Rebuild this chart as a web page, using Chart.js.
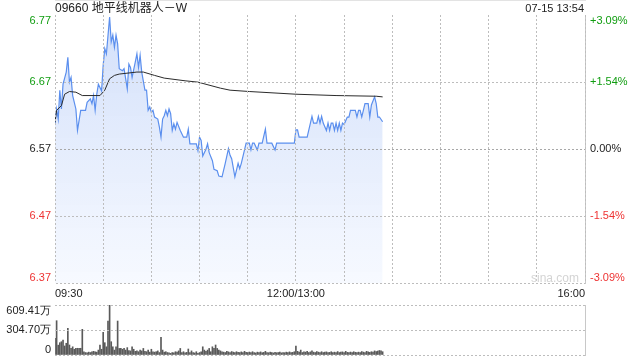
<!DOCTYPE html>
<html><head><meta charset="utf-8">
<script src="https://cdn.jsdelivr.net/npm/chart.js@4/dist/chart.umd.min.js"></script>
<style>
html,body{margin:0;padding:0;background:#fff;width:640px;height:360px;overflow:hidden;font-family:"Liberation Sans","Noto Sans CJK SC",Arial,sans-serif;}
#wrap{position:relative;width:640px;height:360px;background:#fff;}
canvas{display:block;}
#vc{position:absolute;left:0;top:295px;}
.t{position:absolute;white-space:nowrap;line-height:14px;}
#mask{position:absolute;left:0;top:0;width:6px;height:292px;background:#fff;}
</style></head><body>
<div id="wrap">
<canvas id="pc" width="640" height="300"></canvas>
<canvas id="vc" width="640" height="65"></canvas>
<div id="mask"></div>
<div class="t" style="left:55px;top:1px;font-size:12px;color:#222;">09660 地平线机器人－W</div>
<div class="t" style="right:56px;top:1px;font-size:11px;color:#222;">07-15 13:54</div>
<div class="t" style="left:531px;top:271px;font-size:12px;color:#d4d4d4;">sina.com</div>
</div>
<script>
// ---- data ----
const xTickMinutes = [0,30,60,90,120,150,180,210,240,270,300,330];
const xTickLabels = {0:'09:30',150:'12:00/13:00',330:'16:00'};
const priceTicks = [6.37,6.47,6.57,6.67,6.77];
const pctTicks = [-3.09,-1.54,0,1.54,3.09];
const pctLabels = ['-3.09%','-1.54%','0.00%','+1.54%','+3.09%'];
const volTicks = [0,304.70,609.41];
const volLabels = ['0','304.70万','609.41万'];
const prevClose = 6.57;

const priceMinutes = [0,1,2,3,4,5,7,8,9,10,11,13,14,16,19,20,22,23,24,25,26,27,29,30,31,32,34,35,36,37,38,39,40,42,43,45,46,47,48,50,51,52,53,54,56,57,58,59,60,61,62,64,65,66,67,68,69,70,71,72,73,74,75,76,78,80,82,83,84,86,88,89,90,91,92,94,95,96,98,99,101,102,104,106,108,109,110,112,113,114,115,116,118,119,121,122,123,124,126,127,129,131,132,135,137,138,149,150,151,152,154,157,160,161,163,164,165,166,167,169,170,171,172,173,174,175,176,177,178,179,180,182,183,184,187,188,189,190,191,193,195,196,197,199,200,201,202,204];
const prices = [6.608,6.63,6.615,6.658,6.63,6.667,6.685,6.707,6.67,6.677,6.65,6.63,6.598,6.628,6.628,6.64,6.645,6.638,6.65,6.628,6.652,6.667,6.657,6.695,6.72,6.712,6.767,6.73,6.74,6.722,6.74,6.727,6.69,6.687,6.69,6.66,6.697,6.692,6.677,6.70,6.712,6.692,6.71,6.685,6.658,6.658,6.628,6.633,6.625,6.628,6.618,6.615,6.603,6.588,6.615,6.62,6.628,6.62,6.63,6.623,6.598,6.608,6.60,6.61,6.598,6.588,6.588,6.60,6.578,6.578,6.578,6.568,6.588,6.583,6.56,6.57,6.578,6.565,6.553,6.54,6.538,6.53,6.529,6.549,6.571,6.561,6.556,6.529,6.539,6.549,6.541,6.549,6.569,6.579,6.579,6.569,6.579,6.579,6.569,6.579,6.579,6.60,6.579,6.579,6.569,6.579,6.579,6.599,6.599,6.588,6.588,6.588,6.619,6.609,6.609,6.619,6.609,6.619,6.609,6.598,6.609,6.598,6.609,6.609,6.598,6.609,6.598,6.609,6.598,6.609,6.607,6.618,6.618,6.628,6.628,6.618,6.628,6.628,6.618,6.638,6.638,6.618,6.636,6.648,6.638,6.618,6.618,6.611];

const avgMinutes = [0,1,4,6,9,13,17,28,31,34,37,40,51,55,62,68,81,89,103,109,121,150,175,200,204];
const avgPrices = [6.61,6.628,6.635,6.652,6.656,6.655,6.65,6.65,6.658,6.675,6.68,6.682,6.685,6.685,6.68,6.676,6.672,6.67,6.661,6.658,6.656,6.652,6.65,6.649,6.648];

// volume per minute (万股), minute 0..204
const volumes = [203,418,120,150,162,183,110,143,325,122,
82,100,70,82,82,82,82,313,40,30,
25,35,30,40,45,40,35,60,120,70,
276,150,100,414,609,162,100,60,100,414,
80,80,70,80,60,90,55,50,100,70,
45,50,40,60,50,80,45,40,60,35,
70,40,35,40,50,30,215,60,35,40,
30,25,20,30,25,40,35,50,80,30,
40,25,32,73,30,50,30,25,40,20,
30,40,100,60,45,60,80,40,100,80,
122,80,60,50,40,35,30,45,38,30,
42,35,28,40,33,30,38,28,45,32,
30,36,28,40,30,25,35,30,38,28,
32,45,30,28,35,30,25,33,28,30,
36,26,30,28,35,30,38,28,32,40,
110,45,35,60,30,40,35,45,30,38,
50,35,30,42,35,28,40,30,35,38,
28,32,40,30,35,28,42,30,35,38,
30,45,32,28,36,30,40,33,28,35,
30,42,35,30,45,38,32,40,35,50,
42,48,55,50,40];

// ---- styling ----
const FONT = '"Liberation Sans", Arial, sans-serif';
const GREEN = '#109d10', RED = '#ee3333', DARK = '#222';
const GRID = '#bdbdbd';
const FRAME = '#c8c8c8';
const DASH = [2,2];

function priceColor(v){ if (Math.abs(v-prevClose)<1e-6) return DARK; return v>prevClose?GREEN:RED; }
// edge labels sit inside the plot (top label below its line, bottom label above)
function edgeLabel(text, i, n){ if (i===n-1) return ['', text]; if (i===0) return [text, '']; return text; }
function fixY(width){ return s=>{ s.width = width; s.paddingTop = 0; s.paddingBottom = 0; }; }

new Chart(document.getElementById('pc'), {
  type: 'line',
  data: { datasets: [
    { data: avgMinutes.map((m,i)=>({x:m,y:avgPrices[i]})), borderColor:'#2b2b2b', borderWidth:1, pointRadius:0, fill:false, tension:0, order:1 },
    { data: priceMinutes.map((m,i)=>({x:m,y:prices[i]})), borderColor:'#5b8fee', borderWidth:1.2, pointRadius:0, tension:0, order:2,
      fill:'start',
      backgroundColor: (ctx)=>{ const a = ctx.chart.chartArea; if(!a) return 'rgba(215,228,250,0.8)';
        const g = ctx.chart.ctx.createLinearGradient(0,a.top,0,a.bottom);
        g.addColorStop(0,'rgba(208,222,250,0.95)'); g.addColorStop(1,'rgba(246,249,255,0.9)'); return g; } }
  ]},
  options: {
    responsive:false, animation:false, events:[],
    layout:{ padding:{ top:15, left:0, right:0, bottom:0 } },
    plugins:{ legend:{display:false}, tooltip:{enabled:false}, title:{display:false} },
    scales:{
      x:{ type:'linear', min:0, max:330,
        afterBuildTicks:s=>{ s.ticks = xTickMinutes.map(v=>({value:v})); },
        afterFit:s=>{ s.height = 16.5; },
        ticks:{ autoSkip:false, maxRotation:0, align:'inner', padding:4, color:DARK, font:{size:11,family:FONT}, callback:v=>xTickLabels[v] ?? '' },
        grid:{ color:GRID, drawTicks:false, z:1 }, border:{ color:FRAME, dash:DASH } },
      y:{ position:'left', min:6.37, max:6.77,
        afterBuildTicks:s=>{ s.ticks = priceTicks.map(v=>({value:v})); },
        afterFit:fixY(55),
        ticks:{ autoSkip:false, padding:4, font:{size:11,family:FONT,lineHeight:1.0}, color:c=>priceColor(c.tick.value), callback:(v,i)=>edgeLabel(v.toFixed(2), i, priceTicks.length) },
        grid:{ drawTicks:false, z:1, color:c=> (c.tick && Math.abs(c.tick.value-6.77)<1e-6) ? 'rgba(0,0,0,0)' : (c.tick && Math.abs(c.tick.value-6.57)<1e-6 ? '#a8a8a8' : GRID) },
        border:{ color:FRAME, dash:DASH } },
      yr:{ position:'right', min:-3.09, max:3.09,
        afterBuildTicks:s=>{ s.ticks = pctTicks.map(v=>({value:v})); },
        afterFit:fixY(55),
        ticks:{ autoSkip:false, padding:5, font:{size:11,family:FONT,lineHeight:1.0}, color:c=> c.tick.value>0?GREEN:(c.tick.value<0?RED:DARK), callback:(v,i)=>edgeLabel(pctLabels[i], i, pctLabels.length) },
        grid:{ display:false, drawTicks:false }, border:{ color:FRAME } }
    }
  }
});

new Chart(document.getElementById('vc'), {
  type:'bar',
  data:{ datasets:[{ data: volumes.map((v,i)=>({x:i,y:v})), backgroundColor:'#5a5a5a', barThickness:1, categoryPercentage:1, barPercentage:1 }] },
  options:{
    responsive:false, animation:false, events:[],
    layout:{ padding:{ top:10, bottom:5, left:0, right:0 } },
    plugins:{ legend:{display:false}, tooltip:{enabled:false} },
    scales:{
      x:{ type:'linear', min:0, max:330, display:false, offset:false, grid:{offset:false} },
      y:{ position:'left', min:0, max:609.41,
        afterBuildTicks:s=>{ s.ticks = volTicks.map(v=>({value:v})); },
        afterFit:fixY(55),
        ticks:{ autoSkip:false, padding:4, font:{size:11,family:FONT,lineHeight:1.0}, color:DARK, callback:(v,i)=>edgeLabel(volLabels[i], i, volLabels.length) },
        grid:{ drawTicks:false, color:GRID, z:1 }, border:{ display:false, dash:DASH } },
      yr:{ position:'right', display:true, min:0, max:1,
        afterFit:fixY(55),
        ticks:{ display:false }, grid:{ display:false, drawTicks:false }, border:{ color:FRAME } }
    }
  }
});
</script>
</body></html>
